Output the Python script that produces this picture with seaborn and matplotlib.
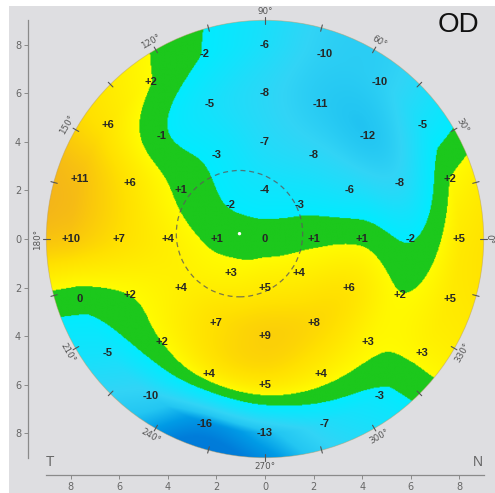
import numpy as np
import matplotlib
matplotlib.use("Agg")
import matplotlib.pyplot as plt
from matplotlib.patches import Circle, Rectangle
import pandas as pd
import seaborn as sns

center_value = 0
ring_radii = [2, 4, 6, 8]
ring2_values = [1, -3, -4, -2, 1, 3, 5, 4]                       # every 45 deg from 0
ring4_values = [1, -6, -8, -7, -3, 1, 4, 4, 7, 9, 8, 6]          # every 30 deg
ring6_values = [-2, -8, -12, -11, -8, -5, -1, 6, 7, 2, 2, 4, 5, 4, 3, 2]   # every 22.5 deg
ring8_values = [5, 2, -5, -10, -10, -6, -2, 2, 6, 11, 10, 0, -5, -10, -16, -13,
                -7, -3, 3, 5]                                     # every 18 deg
angle_labels = [0, 30, 60, 90, 120, 150, 180, 210, 240, 270, 300, 330]
tick_values = [-8, -6, -4, -2, 0, 2, 4, 6, 8]
tick_labels = ["8", "6", "4", "2", "0", "2", "4", "6", "8"]
pupil_center = (-1.05, 0.22)
pupil_radius = 2.6

rings = [ring2_values, ring4_values, ring6_values, ring8_values]

# ---------------- build point table ----------------
rows = [(0.0, 0.0, center_value)]
for r, vals in zip(ring_radii, rings):
    n = len(vals)
    for i, v in enumerate(vals):
        a = np.deg2rad(360.0 * i / n)
        rows.append((r * np.cos(a), r * np.sin(a), v))
df = pd.DataFrame(rows, columns=["x", "y", "v"])

# ---------------- smooth polar surface through the measured rings ----------------
def catmull(p0, p1, p2, p3, t):
    return 0.5 * ((2 * p1) + (-p0 + p2) * t + (2 * p0 - 5 * p1 + 4 * p2 - p3) * t ** 2
                  + (-p0 + 3 * p1 - 3 * p2 + p3) * t ** 3)

def ring_at(vals, theta):
    v = np.asarray(vals, float)
    n = len(v)
    t = (theta % (2 * np.pi)) / (2 * np.pi) * n
    i = np.floor(t).astype(int)
    f = t - i
    return catmull(v[(i - 1) % n], v[i % n], v[(i + 1) % n], v[(i + 2) % n], f)

g = np.linspace(-9.1, 9.1, 520)
GX, GY = np.meshgrid(g, g)
R = np.hypot(GX, GY)
TH = np.arctan2(GY, GX)
R2 = ring_at(ring2_values, TH)
R2o = ring_at(ring2_values, TH + np.pi)
R4 = ring_at(ring4_values, TH)
R6 = ring_at(ring6_values, TH)
R8 = ring_at(ring8_values, TH)
R0 = np.full_like(R, float(center_value))
R10 = 2 * R8 - R6
seq = [R2o, R0, R2, R4, R6, R8, R10]   # radii -2,0,2,4,6,8,10
Z = np.zeros_like(R)
for k in range(4):   # segments [0,2],[2,4],[4,6],[6,8]
    m = (R >= 2 * k) & (R < 2 * k + 2)
    t = (R - 2 * k) / 2.0
    val = catmull(seq[k], seq[k + 1], seq[k + 2], seq[k + 3], t)
    Z[m] = val[m]
m = R >= 8
Z[m] = (R8 + (R - 8) * (R8 - R6) / 2.0 * 0.35)[m]

# colour mapping
stops = [(-30, (0, 105, 210)), (-18, (0, 125, 218)), (-15, (0, 155, 230)),
         (-12, (35, 198, 242)), (-9, (50, 212, 246)), (-5, (20, 226, 252)),
         (-1.7, (0, 236, 255)),
         (-1.6999, (28, 200, 28)), (1.8999, (28, 200, 28)),
         (1.9, (255, 252, 0)), (4, (255, 240, 0)), (7, (255, 224, 0)),
         (10, (250, 200, 12)), (13, (242, 175, 30)), (16, (228, 148, 40)),
         (30, (200, 110, 40))]
sv = np.array([s[0] for s in stops])
sc = np.array([s[1] for s in stops]) / 255.0
RGB = np.dstack([np.interp(Z, sv, sc[:, k]) for k in range(3)])

# ---------------- figure ----------------
sns.set_style("white")
bg = "#dedee1"
fig = plt.figure(figsize=(4.95, 4.93), dpi=100, facecolor=bg)
W, H = 495.0, 493.0
x0 = 28.0
xmin = (x0 - 265.0) / 24.3
xmax = (W - 265.0) / 24.3
ybot_px = 475.0
ytop_px = 6.0
ymin = (239.0 - ybot_px) / 24.3
ymax = (239.0 - ytop_px) / 24.3
ax = fig.add_axes([x0 / W, (H - ybot_px) / H, (W - x0) / W, (ybot_px - ytop_px) / H])
ax.set_facecolor(bg)
ax.set_xlim(xmin, xmax)
ax.set_ylim(ymin, ymax)
ax.set_aspect("auto")

im = ax.imshow(RGB, extent=[g[0], g[-1], g[0], g[-1]], origin="lower",
               interpolation="bilinear", zorder=1)
clip = Circle((0, 0), 9.0, transform=ax.transData, facecolor="none", edgecolor="none")
ax.add_patch(clip)
im.set_clip_path(clip)
ax.add_patch(Circle((0, 0), 9.0, facecolor="none", edgecolor="#b89a60", lw=0.6, alpha=0.5, zorder=2))

# value labels
for _, r in df.iterrows():
    v = int(r.v)
    s = "0" if v == 0 else ("+%d" % v if v > 0 else "%d" % v)
    ax.text(r.x, r.y, s, ha="center", va="center", fontsize=8, fontweight="bold",
            color="#262626", family="Liberation Sans", zorder=5)

# pupil circle and center
ax.add_patch(Circle(pupil_center, pupil_radius, facecolor="none", edgecolor="#5a5a5a",
                    lw=0.9, ls=(0, (4, 3)), alpha=0.8, zorder=4))
sns.scatterplot(x=[pupil_center[0]], y=[pupil_center[1]], ax=ax, s=6, color="white",
                edgecolor="none", zorder=6, legend=False)

# angle ticks and labels
for a in range(0, 360, 15):
    t = np.deg2rad(a)
    ax.plot([8.85 * np.cos(t), 9.12 * np.cos(t)], [8.85 * np.sin(t), 9.12 * np.sin(t)],
            color="#555555", lw=0.8, zorder=3)
for a in angle_labels:
    t = np.deg2rad(a)
    rot = a - 90
    if rot > 90:
        rot -= 180
    if rot <= -90:
        rot += 180
    rr = 9.38
    if a == 0:
        rot = -90
        rr = 9.2
    ax.text(rr * np.cos(t), rr * np.sin(t), "%d\u00b0" % a, rotation=rot,
            rotation_mode="anchor", ha="center", va="center", fontsize=6.3,
            color="#555555", zorder=3)

# axes styling
for side in ["top", "right"]:
    ax.spines[side].set_visible(False)
for side in ["left", "bottom"]:
    ax.spines[side].set_color("#8a8a8a")
    ax.spines[side].set_linewidth(0.9)
ax.spines["left"].set_bounds(-9, 9)
ax.spines["bottom"].set_bounds(-9, 9)
ax.set_xticks(tick_values)
ax.set_xticklabels(tick_labels)
ax.set_yticks(tick_values)
ax.set_yticklabels(tick_labels)
ax.tick_params(axis="both", direction="out", length=3, width=0.7, color="#8a8a8a",
               labelsize=7, labelcolor="#666666", pad=2,
               bottom=True, left=True)

ax.text(-8.85, -9.18, "T", ha="center", va="center", fontsize=10, color="#666666",
        family="Liberation Sans")
ax.text(8.77, -9.18, "N", ha="center", va="center", fontsize=10, color="#666666",
        family="Liberation Sans")
ax.text(7.94, 8.8, "OD", ha="center", va="center", fontsize=20, color="#111111",
        family="Liberation Sans")

# white margins of the original screenshot
fig.patches.append(Rectangle((0, 1 - 6 / H), 1, 6 / H, transform=fig.transFigure,
                             facecolor="white", edgecolor="none", zorder=-1))
fig.patches.append(Rectangle((0, 0), 9 / W, 1, transform=fig.transFigure,
                             facecolor="white", edgecolor="none", zorder=-1))

fig.savefig("out.png", dpi=100, facecolor=bg)
